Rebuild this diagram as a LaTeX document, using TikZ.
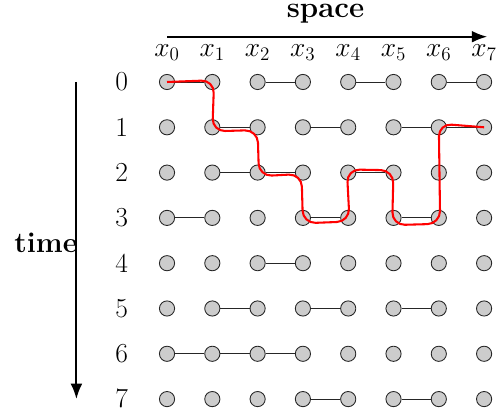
\documentclass[tikz,border=0pt]{standalone}
\usetikzlibrary{arrows.meta}
\begin{document}
\begin{tikzpicture}[x=1cm,y=1cm,
  site/.style={circle,draw=black!85,fill=black!20,line width=0.55pt,minimum size=0.335cm,inner sep=0pt},
  bond/.style={draw=black!85,line width=0.6pt},
  lbl/.style={font=\LARGE,inner sep=0pt},
  axis/.style={line width=1.3pt,-{Latex[length=3.4mm,width=2.6mm]}},
  path/.style={red,line width=1.3pt,rounded corners=8pt}]
\useasboundingbox (-3.687,1.810) rectangle (7.417,-7.461);
% sites
\foreach \r in {0,...,7}{
  \foreach \c in {0,...,7}{
    \node[site] (n-\r-\c) at (\c,-\r) {};
  }
  \node[lbl] (row\r) at (-1.0,-\r) {$\r$};
}
\foreach \c in {0,...,7}{
  \node[lbl] (col\c) at (\c,0.64) {$x_{\c}$};
}
% bonds
\foreach \r/\a/\b in {0/0/1,0/2/3,0/4/5,0/6/7,
  1/1/2,1/3/4,1/5/6,1/6/7,
  2/1/2,2/2/3,2/4/5,
  3/0/1,3/3/4,3/5/6,
  4/2/3,
  5/1/2,5/3/4,5/5/6,
  6/0/1,6/1/2,6/2/3,
  7/3/4,7/5/6}{
  \draw[bond] (n-\r-\a) -- (n-\r-\b);
}
% axes
\coordinate (sp0) at (0,1.0);
\coordinate (sp1) at (7.07,1.0);
\draw[axis] (sp0) -- (sp1);
\node[font=\fontsize{18.5}{22}\selectfont\bfseries,inner sep=0pt] (space) at (3.5,1.5) {space};
\coordinate (t0) at (-2.0,0.0);
\coordinate (t1) at (-2.0,-7.0);
\draw[axis] (t0) -- (t1);
\node[font=\fontsize{18}{22}\selectfont\bfseries,inner sep=0pt,anchor=east] (time) at (-1.97,-3.55) {time};
% world line
\draw[path] (n-0-0.center) -- (1.04,0.04) -- (1.0,-1.09) -- (2.0,-1.06)
  -- (2.03,-2.08) -- (2.97,-2.03) -- (3.0,-3.12) -- (4.03,-3.08)
  -- (3.97,-1.93) -- (5.0,-1.95) -- (4.97,-3.16) -- (6.03,-3.13)
  -- (6.0,-0.92) -- (n-1-7.center);
\end{tikzpicture}
\end{document}
